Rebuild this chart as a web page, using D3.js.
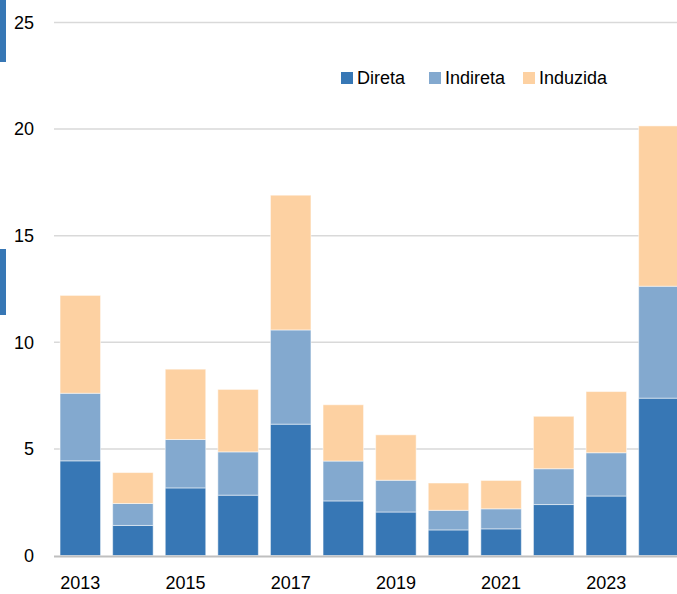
<!DOCTYPE html>
<html>
<head>
<meta charset="utf-8">
<script src="https://cdn.jsdelivr.net/npm/d3@7"></script>
<style>
    body { margin: 0; background: #fff; overflow: hidden; }
    text { font-family: "Liberation Sans", Arial, sans-serif; fill: #000; }
</style>
</head>
<body>
<svg class="chart"></svg>
<script>
var years = ["2013", "2014", "2015", "2016", "2017", "2018", "2019", "2020", "2021", "2022", "2023", "2024"];
var direta   = [4.44, 1.41, 3.17, 2.83, 6.16, 2.56, 2.04, 1.20, 1.25, 2.39, 2.79, 7.38];
var indireta = [3.17, 1.03, 2.27, 2.03, 4.42, 1.87, 1.49, 0.92, 0.94, 1.68, 2.03, 5.25];
var induzida = [4.59, 1.45, 3.30, 2.93, 6.32, 2.64, 2.13, 1.28, 1.33, 2.46, 2.87, 7.52];
var seriesNames = ["Direta", "Indireta", "Induzida"];
var colors = ["#3777b5", "#83a9cf", "#fdd1a2"];
var yTicks = [0, 5, 10, 15, 20, 25];
var xLabels = ["2013", "2015", "2017", "2019", "2021", "2023"];

var width = 677, height = 594;

var svg = d3.select(".chart")
    .attr("width", width)
    .attr("height", height);

// decorative blue marks at left edge
svg.append("rect").attr("x", 0).attr("y", 0).attr("width", 6).attr("height", 62).attr("fill", "#3777b5");
svg.append("rect").attr("x", 0).attr("y", 249).attr("width", 6).attr("height", 66).attr("fill", "#3777b5");

var data = years.map(function(y, i) {
    return { year: y, Direta: direta[i], Indireta: indireta[i], Induzida: induzida[i] };
});

var x = d3.scaleBand()
    .domain(years)
    .range([54, 54 + 12 * 52.6])
    .paddingInner(0.23)
    .paddingOuter(0.115);

var y = d3.scaleLinear()
    .domain([0, 25])
    .range([555.5, 22.5]);

// gridlines
svg.append("g").selectAll("line")
    .data(yTicks.filter(function(d) { return d > 0; }))
    .enter().append("line")
    .attr("x1", 54).attr("x2", width)
    .attr("y1", function(d) { return y(d); })
    .attr("y2", function(d) { return y(d); })
    .attr("stroke", "#d9d9d9")
    .attr("stroke-width", 1.5);

// y labels
svg.append("g").selectAll("text")
    .data(yTicks)
    .enter().append("text")
    .attr("x", 34)
    .attr("y", function(d) { return y(d); })
    .attr("dy", "0.35em")
    .attr("text-anchor", "end")
    .style("font-size", "18px")
    .text(function(d) { return d; });

var stack = d3.stack().keys(seriesNames);
var layers = stack(data);

svg.append("g").selectAll("g")
    .data(layers)
    .enter().append("g")
    .attr("fill", function(d, i) { return colors[i]; })
    .selectAll("rect")
    .data(function(d) { return d; })
    .enter().append("rect")
    .attr("x", function(d) { return x(d.data.year); })
    .attr("y", function(d) { return y(d[1]); })
    .attr("height", function(d) { return y(d[0]) - y(d[1]); })
    .attr("width", x.bandwidth())
    .attr("stroke", "#ffffff")
    .attr("stroke-opacity", 0.5)
    .attr("stroke-width", 1);

// baseline
svg.append("line")
    .attr("x1", 54).attr("x2", width)
    .attr("y1", y(0) + 1).attr("y2", y(0) + 1)
    .attr("stroke", "#bfbfbf")
    .attr("stroke-width", 2);

// x labels
svg.append("g").selectAll("text")
    .data(xLabels)
    .enter().append("text")
    .attr("x", function(d) { return x(d) + x.bandwidth() / 2; })
    .attr("y", 589)
    .attr("text-anchor", "middle")
    .style("font-size", "18px")
    .text(function(d) { return d; });

// legend
var legendX = [341, 429, 523];
var legend = svg.append("g").selectAll("g")
    .data(seriesNames)
    .enter().append("g")
    .attr("transform", function(d, i) { return "translate(" + legendX[i] + ", 72)"; });

legend.append("rect")
    .attr("width", 12).attr("height", 12)
    .attr("fill", function(d, i) { return colors[i]; });

legend.append("text")
    .attr("x", 16)
    .attr("y", 6)
    .attr("dy", "0.35em")
    .style("font-size", "18px")
    .text(function(d) { return d; });
</script>
</body>
</html>
